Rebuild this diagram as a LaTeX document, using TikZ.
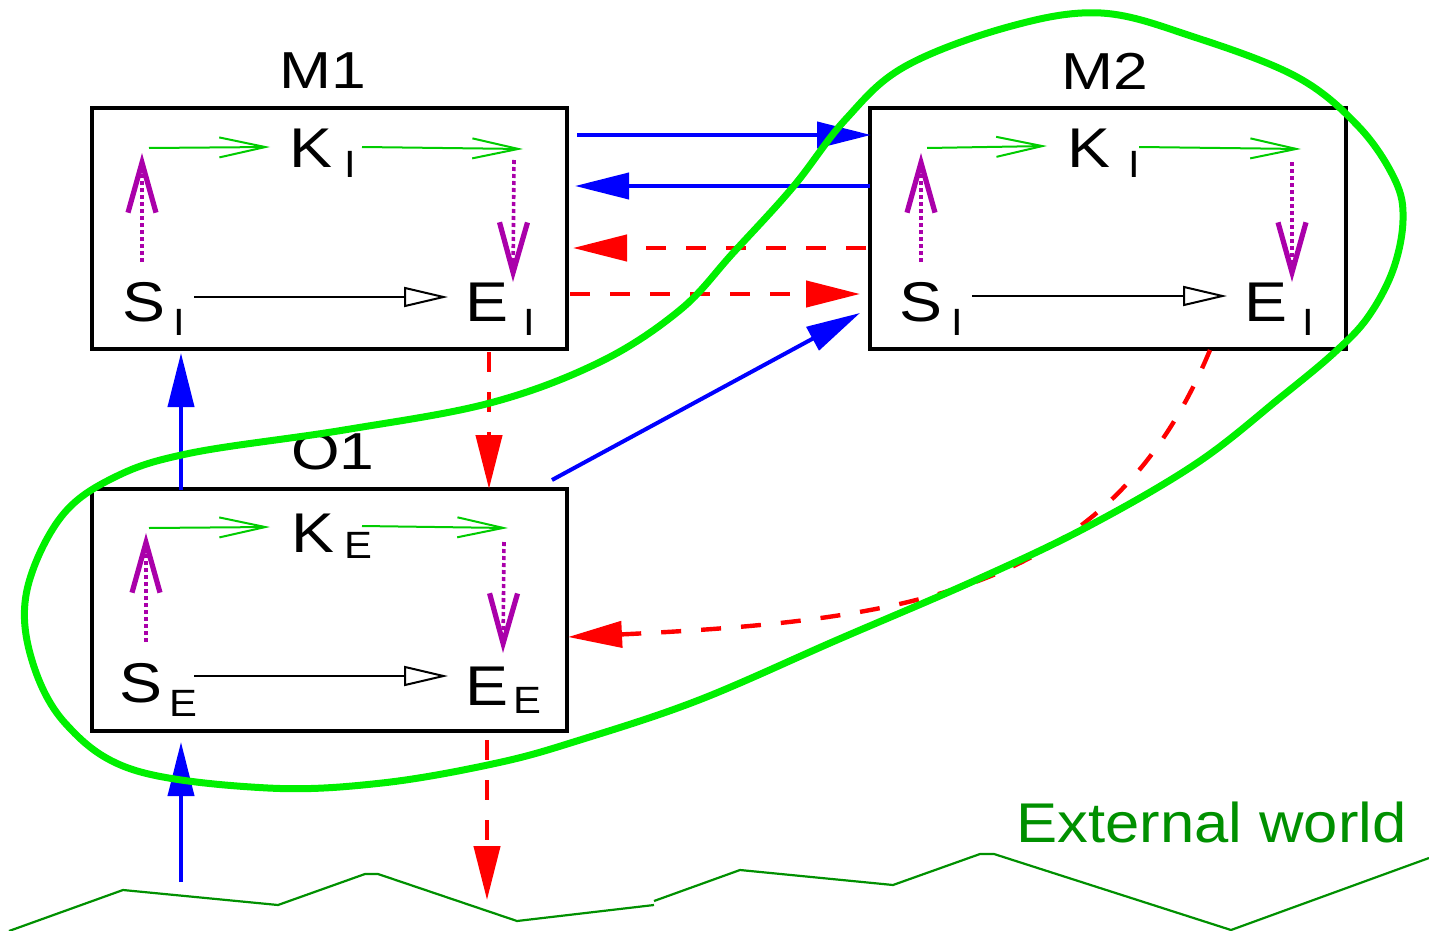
\documentclass[tikz,border=0pt]{standalone}
\usepackage{fontspec}
\setmainfont{Liberation Sans}
\usepackage{graphicx}
\usetikzlibrary{arrows.meta}
\definecolor{cblue}{RGB}{0,0,255}
\definecolor{cred}{RGB}{255,0,0}
\definecolor{cmag}{RGB}{170,0,170}
\definecolor{cgreen}{RGB}{0,204,0}
\definecolor{cloop}{RGB}{0,240,0}
\definecolor{cdark}{RGB}{0,144,0}
\newcommand\stretchtxt[2]{\scalebox{#1}[1]{#2}}
\tikzset{
  box/.style={draw=black, line width=2pt, inner sep=0pt, outer sep=0pt},
  titletxt/.style={anchor=base, inner sep=0pt, font=\fontsize{26}{28}\selectfont},
  bigtxt/.style={anchor=base, inner sep=0pt, font=\fontsize{28}{30}\selectfont},
  subtxt/.style={anchor=base, inner sep=0pt, font=\fontsize{19}{21}\selectfont},
  garrow/.style={draw=cgreen, line width=1pt, -{Straight Barb[length=23pt,width=10pt]}},
  marrow/.style={draw=cmag, line width=1.8pt, dash pattern=on 2pt off 1.5pt, -{Straight Barb[length=25pt,width=14pt,line width=2.6pt]}},
  karrow/.style={draw=black, line width=1pt, -{Triangle[open,length=22pt,width=10pt,fill=white]}},
  barrow/.style={draw=cblue, line width=2pt, -{Triangle[length=27pt,width=13pt]}},
  rarrow/.style={draw=cred, line width=2.2pt, dash pattern=on 10pt off 10pt, -{Triangle[length=27pt,width=13pt]}},
}
\begin{document}
\begin{tikzpicture}[x=0.5pt,y=-0.5pt]
\useasboundingbox (0,0) rectangle (1429,931);

% boxes
\node[box, minimum width=237.5pt, minimum height=120.5pt] (M1) at (329.5,228.5) {};
\node[box, minimum width=238pt, minimum height=120.5pt] (M2) at (1108,228.5) {};
\node[box, minimum width=237.5pt, minimum height=121pt] (O1) at (329.5,610) {};

% titles
\node[titletxt] (tM1) at (322.5,89) {\stretchtxt{1.2}{M1}};
\node[titletxt] (tM2) at (1105,90) {\stretchtxt{1.2}{M2}};
\node[titletxt] (tO1) at (333,469) {\stretchtxt{1.2}{O1}};

% M1 labels
\node[bigtxt] (m1K) at (311,168) {\stretchtxt{1.15}{K}};
\node[subtxt] (m1Ki) at (350,177) {\stretchtxt{1.1}{I}};
\node[bigtxt] (m1S) at (143.5,321) {\stretchtxt{1.15}{S}};
\node[subtxt] (m1Si) at (179,335) {\stretchtxt{1.1}{I}};
\node[bigtxt] (m1E) at (487,321) {\stretchtxt{1.15}{E}};
\node[subtxt] (m1Ei) at (529.5,335) {\stretchtxt{1.1}{I}};
% M2 labels
\node[bigtxt] (m2K) at (1089,168) {\stretchtxt{1.15}{K}};
\node[subtxt] (m2Ki) at (1134.5,177) {\stretchtxt{1.1}{I}};
\node[bigtxt] (m2S) at (921,321) {\stretchtxt{1.15}{S}};
\node[subtxt] (m2Si) at (957.5,335) {\stretchtxt{1.1}{I}};
\node[bigtxt] (m2E) at (1265.5,321) {\stretchtxt{1.15}{E}};
\node[subtxt] (m2Ei) at (1308.5,335) {\stretchtxt{1.1}{I}};
% O1 labels
\node[bigtxt] (o1K) at (313,552) {\stretchtxt{1.15}{K}};
\node[subtxt] (o1Ke) at (358.5,558) {\stretchtxt{1.1}{E}};
\node[bigtxt] (o1S) at (141,702) {\stretchtxt{1.15}{S}};
\node[subtxt] (o1Se) at (183,716) {\stretchtxt{1.1}{E}};
\node[bigtxt] (o1E) at (487,705) {\stretchtxt{1.15}{E}};
\node[subtxt] (o1Ee) at (527.5,713) {\stretchtxt{1.1}{E}};

\node[anchor=base east, inner sep=0pt, text=cdark, font=\fontsize{28}{30}\selectfont] (ext) at (1407,842) {\stretchtxt{1.1}{External world}};

% inner coordinates
\coordinate (m1g1s) at (149,148); \coordinate (m1g1e) at (270,147);
\coordinate (m1g2s) at (362,147); \coordinate (m1g2e) at (523,149);
\coordinate (m1mus) at (142,262); \coordinate (m1mue) at (142,153);
\coordinate (m1mds) at (514,160); \coordinate (m1mde) at (513,282);
\coordinate (m1bs) at (194,297);  \coordinate (m1be) at (448,297);

\coordinate (m2g1s) at (927,148);  \coordinate (m2g1e) at (1047,146);
\coordinate (m2g2s) at (1139,147); \coordinate (m2g2e) at (1301,149);
\coordinate (m2mus) at (921,262);  \coordinate (m2mue) at (921,153);
\coordinate (m2mds) at (1292,162); \coordinate (m2mde) at (1292,282);
\coordinate (m2bs) at (972,296);   \coordinate (m2be) at (1227,296);

\coordinate (o1g1s) at (149,528); \coordinate (o1g1e) at (270,527);
\coordinate (o1g2s) at (362,526); \coordinate (o1g2e) at (508,528);
\coordinate (o1mus) at (146,642); \coordinate (o1mue) at (146,533);
\coordinate (o1mds) at (504,542); \coordinate (o1mde) at (503,653);
\coordinate (o1bs) at (194,676);  \coordinate (o1be) at (448,676);

\foreach \b in {m1,m2,o1}{
  \draw[garrow] (\b g1s) -- (\b g1e);
  \draw[garrow] (\b g2s) -- (\b g2e);
  \draw[marrow] (\b mus) -- (\b mue);
  \draw[marrow] (\b mds) -- (\b mde);
  \draw[karrow] (\b bs) -- (\b be);
}

% connector coordinates
\coordinate (c1s) at (577,135);  \coordinate (c1e) at (871,135);
\coordinate (c2s) at (870,186);  \coordinate (c2e) at (575,186);
\coordinate (c3s) at (866,248);  \coordinate (c3e) at (573,248);
\coordinate (c4s) at (570,294);  \coordinate (c4e) at (860,294);
\coordinate (c5s) at (181,490);  \coordinate (c5e) at (181,353);
\coordinate (c6s) at (552,480);  \coordinate (c6e) at (860,313);
\coordinate (c7s) at (181,882);  \coordinate (c7e) at (181,742);
\coordinate (c8s) at (489,352);  \coordinate (c8e) at (489,489);
\coordinate (c9s) at (487,740);  \coordinate (c9e) at (487,900);
\coordinate (c10s) at (1210,350); \coordinate (c10e) at (568,637);

\draw[barrow] (c1s) -- (c1e);
\draw[barrow] (c2s) -- (c2e);
\draw[rarrow] (c3s) -- (c3e);
\draw[rarrow] (c4s) -- (c4e);
\draw[barrow] (c5s) -- (c5e);
\draw[barrow] (c6s) -- (c6e);
\draw[barrow] (c7s) -- (c7e);
\draw[rarrow] (c8s) -- (c8e);
\draw[rarrow] (c9s) -- (c9e);
\draw[rarrow] (c10s) .. controls (1111,589) and (918,620) .. (c10e);

% ground
\draw[cdark, line width=1.1pt, line join=miter]
  (9,931) -- (123,890) -- (278,905) -- (365,874) -- (378,874) -- (517,921) -- (654,905);
\draw[cdark, line width=1.1pt, line join=miter]
  (654,901) -- (740,870) -- (893,885) -- (980,854) -- (994,854) -- (1231,930) -- (1429,858);

% green loop
\draw[cloop, line width=3.5pt] plot[smooth cycle, tension=0.6] coordinates {
  (1101,13) (1194,37) (1297,77) (1359,127) (1395,180) (1403,220) (1393,270)
  (1368,317) (1335,352) (1281,397) (1197,463) (1087,527) (976,580) (837,640)
  (699,700) (580,740) (497,763) (382,783) (268,788) (134,770) (65,723)
  (31,657) (27,590) (61,517) (115,477) (191,453) (344,430) (490,403)
  (600,362) (680,310) (733,253) (793,187) (845,120) (904,67) (1008,27)};
\end{tikzpicture}
\end{document}
